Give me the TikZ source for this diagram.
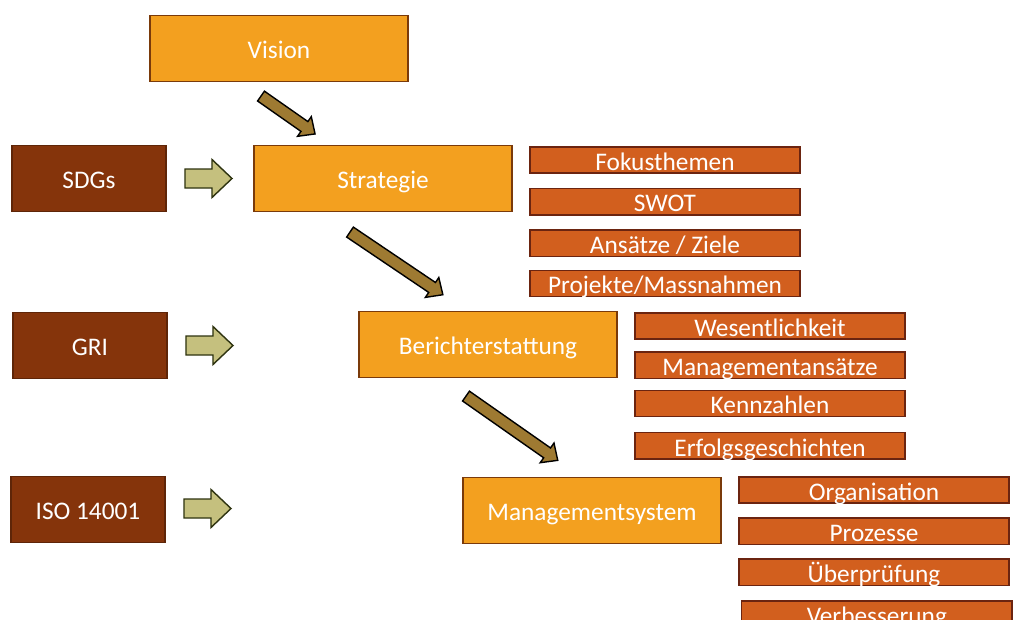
\documentclass[tikz,border=0pt]{standalone}
\usepackage{fontspec}
\setmainfont{Carlito}
\usetikzlibrary{positioning, calc}

\definecolor{stagefill}{HTML}{F3A01F}
\definecolor{stageborder}{HTML}{7A3A0A}
\definecolor{sourcefill}{HTML}{85340B}
\definecolor{sourceborder}{HTML}{5E2508}
\definecolor{topicfill}{HTML}{D25F1E}
\definecolor{topicborder}{HTML}{6B2410}
\definecolor{flowfill}{HTML}{9E7A32}
\definecolor{feedfill}{HTML}{C5C07E}
\definecolor{feedborder}{HTML}{2E3310}

\begin{document}
\begin{tikzpicture}[
    x=0.025cm, y=-0.025cm,
    every node/.style={font=\fontsize{18}{20}\selectfont, text=white,
        text height=14.5pt, text depth=0pt},
    stage/.style={
        rectangle,
        draw=stageborder,
        fill=stagefill,
        minimum width=6.45cm,
        minimum height=1.64cm,
        line width=1.1pt
    },
    source/.style={
        rectangle,
        draw=sourceborder,
        fill=sourcefill,
        minimum width=3.86cm,
        minimum height=1.64cm,
        line width=1.1pt
    },
    topic/.style={
        rectangle,
        draw=topicborder,
        fill=topicfill,
        minimum width=6.76cm,
        minimum height=0.66cm,
        inner sep=0pt,
        line width=1.1pt
    },
    flow/.style={fill=flowfill, draw=black, line width=1pt},
    feed/.style={fill=feedfill, draw=feedborder, line width=1pt},
    pics/blockarrow/.style args={#1/#2/#3/#4}{code={
        \draw[pic actions] (0,-#2) -- ({#1-#4},-#2) -- ({#1-#4},-#3) -- (#1,0)
            -- ({#1-#4},#3) -- ({#1-#4},#2) -- (0,#2) -- cycle;
    }}
]
\clip (0,0) rectangle (1016,619);

% Main chain
\node[stage] (vision) at (279,48.5) {Vision};
\node[stage] (strategie) at (383,178.5) {Strategie};
\node[stage] (bericht) at (488,344.5) {Berichterstattung};
\node[stage] (msystem) at (592,510.5) {Managementsystem};

% Frameworks
\node[source] (sdgs) at (89,178.5) {SDGs};
\node[source] (gri) at (90,345.5) {GRI};
\node[source] (iso) at (88,509.5) {ISO 14001};

% Strategie topics
\node[topic] (fokus) at (665,160) {Fokusthemen};
\node[topic, below=0.34cm of fokus] (swot) {SWOT};
\node[topic, below=0.34cm of swot] (ziele) {Ansätze / Ziele};
\node[topic, below=0.31cm of ziele] (projekte) {Projekte/Massnahmen};

% Berichterstattung topics
\node[topic] (wesent) at (770,326) {Wesentlichkeit};
\node[topic, below=0.28cm of wesent] (mansatz) {Managementansätze};
\node[topic, below=0.26cm of mansatz] (kennz) {Kennzahlen};
\node[topic, below=0.36cm of kennz] (erfolg) {Erfolgsgeschichten};

% Managementsystem topics
\node[topic] (orga) at (874,490) {Organisation};
\node[topic, below=0.33cm of orga] (prozesse) {Prozesse};
\node[topic, below=0.33cm of prozesse] (pruefung) {Überprüfung};
\node[topic, below=0.35cm of pruefung, xshift=2] (verbess) {Verbesserung};

% Diagonal flow arrows
\pic[flow, rotate=-35] at ($(vision.south)+(-18,14)$) {blockarrow=66/6/12/13};
\pic[flow, rotate=-34] at ($(strategie.south)+(-33,20)$) {blockarrow=112/6/12/13};
\pic[flow, rotate=-35] at ($(bericht.south)+(-22,18)$) {blockarrow=112/6/12/13};

% Framework inputs
\pic[feed] at ($(sdgs.east)+(18,0)$) {blockarrow=47/9.5/19/20};
\pic[feed] at ($(gri.east)+(18,0)$) {blockarrow=47/9.5/19/20};
\pic[feed] at ($(iso.east)+(18,-1)$) {blockarrow=47/9.5/19/20};

\end{tikzpicture}
\end{document}
